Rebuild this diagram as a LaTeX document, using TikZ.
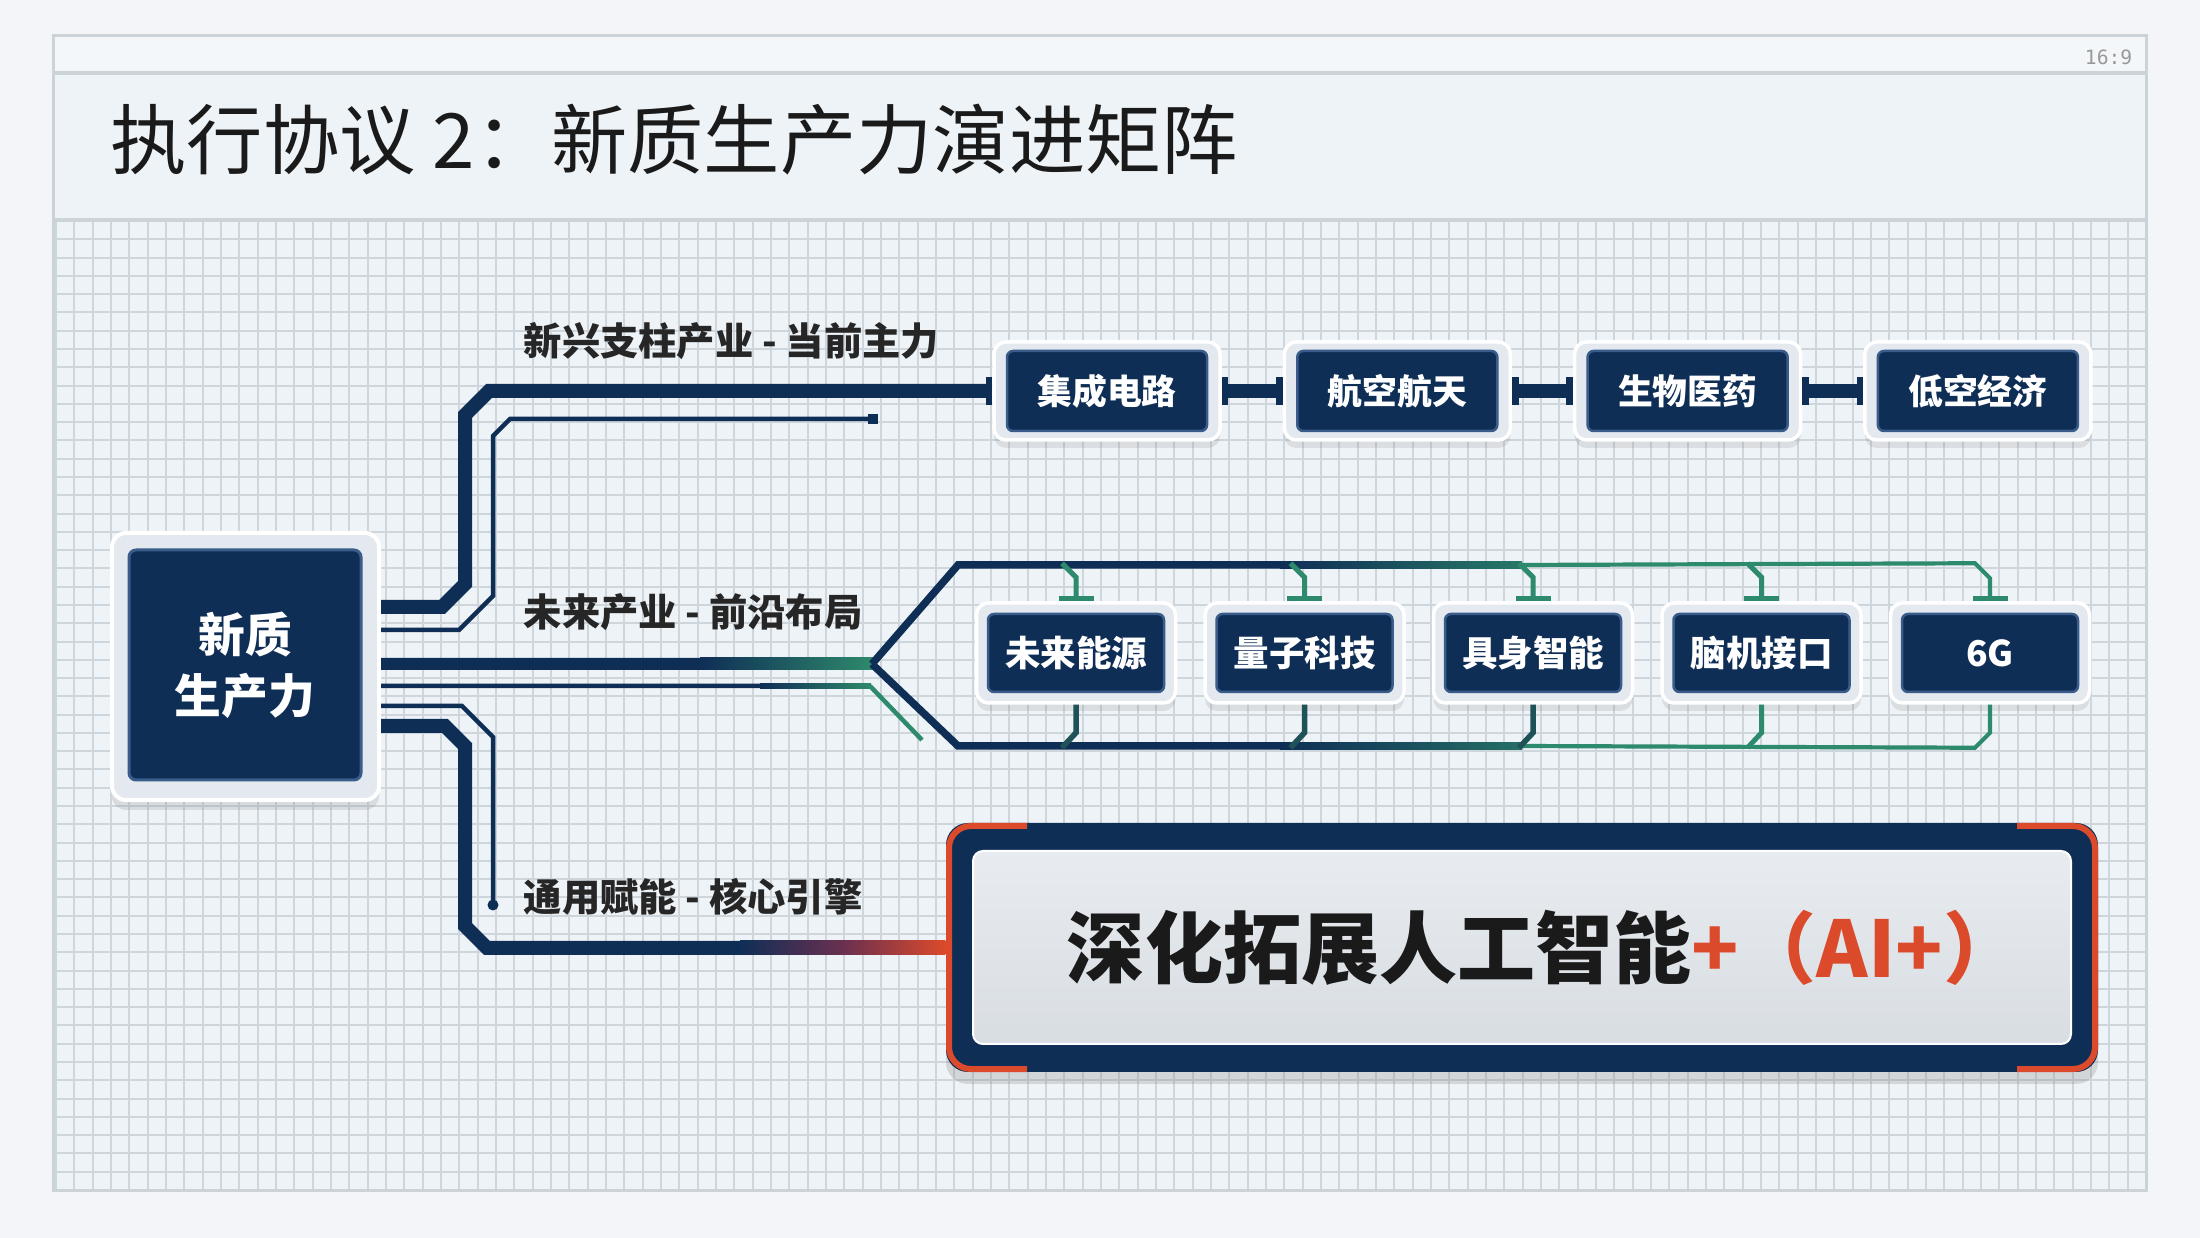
\documentclass[tikz,border=0pt]{standalone}
\usepackage{fontspec}
\setmainfont{Noto Sans CJK SC}
\newfontfamily\monof{DejaVu Sans Mono}
\usetikzlibrary{arrows.meta,shadows,calc}
\definecolor{navy}{HTML}{0F2E56}
\definecolor{navyL}{HTML}{3A5C8A}
\definecolor{grn}{HTML}{2E8A6C}
\definecolor{teal}{HTML}{1F5258}
\definecolor{orng}{HTML}{DB4A2B}
\definecolor{purp}{HTML}{6A3050}
\definecolor{bgc}{HTML}{EEF3F7}
\definecolor{outc}{HTML}{F3F5F8}
\definecolor{gridc}{HTML}{CED5DB}
\definecolor{framec}{HTML}{CBD2D8}
\definecolor{txt}{HTML}{1A1A1A}
\definecolor{lbltxt}{HTML}{262626}
\definecolor{boxfr}{HTML}{E3E9EF}
\definecolor{panT}{HTML}{E8ECF0}
\definecolor{panB}{HTML}{D8DDE3}
\tikzset{
  gridln/.style={draw=gridc, line width=0.2mm},
  thickln/.style={draw=navy, line width=1.4mm, line join=miter},
  thinln/.style={draw=navy, line width=0.45mm, line join=miter},
  busln/.style={draw=navy, line width=0.75mm, line join=miter},
  gbusln/.style={draw=grn, line width=0.42mm, line join=miter},
  stubln/.style={draw=grn, line width=0.5mm, line join=miter},
  bstubln/.style={draw=teal, line width=0.55mm, line join=miter},
  capbar/.tip={Bar[width=2.8mm,line width=0.65mm]},
  capT/.tip={Bar[width=3.5mm,line width=0.5mm]},
  lbl/.style={anchor=west, text=lbltxt, inner sep=0, font=\bfseries\fontsize{10.9pt}{13pt}\selectfont},
  frameT/.style={draw=white, line width=0.35mm, fill=boxfr, rounded corners=1.2mm, minimum width=22.6mm, minimum height=9.8mm, inner sep=0, drop shadow={opacity=0.18, shadow xshift=0mm, shadow yshift=-0.8mm}},
  boxT/.style={fill=navy, draw=navyL, line width=0.25mm, rounded corners=0.6mm, minimum width=20mm, minimum height=8mm, inner sep=0, text=white, font=\bfseries\fontsize{9.9pt}{12pt}\selectfont},
  frameB/.style={frameT, minimum width=19.9mm, minimum height=10mm},
  boxB/.style={boxT, minimum width=17.6mm, minimum height=7.8mm, font=\bfseries\fontsize{10.1pt}{12pt}\selectfont},
  coreframe/.style={draw=white, line width=0.4mm, fill=boxfr, rounded corners=1.4mm, minimum width=26.7mm, minimum height=26.7mm, inner sep=0, drop shadow={opacity=0.2, shadow xshift=0mm, shadow yshift=-1mm}},
  corebox/.style={fill=navy, draw=navyL, line width=0.3mm, rounded corners=0.7mm, minimum width=23.2mm, minimum height=23mm, inner sep=0, text=white, align=center, font=\bfseries\fontsize{13.3pt}{17.4pt}\selectfont},
  aibox/.style={fill=navy, rounded corners=2.2mm, minimum width=115.2mm, minimum height=24.9mm, inner sep=0, drop shadow={opacity=0.25, shadow xshift=0mm, shadow yshift=-1.2mm}},
  aipanel/.style={top color=panT, bottom color=panB, draw=white, line width=0.2mm, rounded corners=1mm, minimum width=109.8mm, minimum height=19.3mm, inner sep=0},
  aitext/.style={inner sep=0, font=\bfseries\fontsize{22.2pt}{26pt}\selectfont},
  orngedge/.style={draw=orng, line width=0.6mm, rounded corners=2.2mm},
  dotsq/.style={fill=navy, minimum size=1mm, inner sep=0},
  dotrd/.style={circle, fill=navy, minimum size=1.1mm, inner sep=0}
}
\begin{document}
\begin{tikzpicture}[x=0.1mm,y=-0.1mm]
\useasboundingbox (0,0) rectangle (2200,1238);
\fill[outc] (0,0) rectangle (2200,1238);
% slide frame
\fill[bgc] (53,36) rectangle (2146,1190);
\fill[white, opacity=0.35] (53,36) rectangle (2146,73);
% grid
\foreach \i in {0,...,114} { \draw[gridln] ({56+18.333*\i},221) -- ({56+18.333*\i},1190); }
\foreach \j in {0,...,53} { \draw[gridln] (56,{221+18.283*\j}) -- (2146,{221+18.283*\j}); }
\draw[framec, line width=0.3mm] (53,36) rectangle (2146,1190);
\draw[framec, line width=0.35mm] (53,73) -- (2146,73);
\draw[framec, line width=0.4mm] (53,220) -- (2146,220);
\node[anchor=east, inner sep=0, text=gray!80, font=\monof\fontsize{5.6pt}{6pt}\selectfont] (ratio) at (2133,57) {16:9};
\node[anchor=west, inner sep=0, text=txt, font=\fontsize{21.7pt}{26pt}\selectfont] (title) at (110,140) {执行协议 2：新质生产力演进矩阵};

% core node
\node[coreframe] (coreF) at (245.5,666.5) {};
\node[corebox] (core) at (245,665) {新质\\生产力};

% top row nodes
\foreach \n/\t [count=\k from 0] in {e1/集成电路, e2/航空航天, e3/生物医药, e4/低空经济} {
  \node[frameT] (\n) at ({1107+290.3*\k},391) {};
  \node[boxT] (\n t) at (\n) {\t};
}
% bottom row nodes
\foreach \n/\t [count=\k from 0] in {f1/未来能源, f2/量子科技, f3/具身智能, f4/脑机接口, f5/6G} {
  \node[frameB] (\n) at ({1076+228.5*\k},653) {};
  \node[boxB] (\n t) at (\n) {\t};
}

% labels
\node[lbl] (l1) at (523,341) {新兴支柱产业 - 当前主力};
\node[lbl] (l2) at (523,612) {未来产业 - 前沿布局};
\node[lbl] (l3) at (523,897) {通用赋能 - 核心引擎};

% branch end markers
\node[dotsq] (tdot) at (873,419) {};
\node[dotrd] (bdot) at (493,905) {};
\coordinate (fork) at (872,664);

% top branch
\draw[thickln, -capbar] ([yshift=5.95mm]coreF.east) -- (442,607) -- (465,584) -- (465,415) -- (489,391) -- (e1.west);
\draw[thinln] ([yshift=3.65mm]coreF.east) -- (459,630) -- (493,596) -- (493,436) -- (510,419) -- (tdot.center);
\draw[thickln, capbar-capbar] (e1.east) -- (e2.west);
\draw[thickln, capbar-capbar] (e2.east) -- (e3.west);
\draw[thickln, capbar-capbar] (e3.east) -- (e4.west);

% middle branch
\draw[thickln, line width=1.2mm] ([yshift=0.25mm]coreF.east) -- (fork);
\shade[left color=navy, right color=grn] (700,658) rectangle (874,670);
\draw[thinln] ([yshift=-1.95mm]coreF.east) -- (760,686);
\shade[left color=navy, right color=grn] (760,683.75) rectangle (871,688.25);
\draw[thinln, draw=grn] (870,686) -- (922,740);
% fork to buses
\draw[busln] (fork) -- (958,565) -- (1280,565);
\shade[left color=navy, right color=grn!80!navy] (1280,561.25) rectangle (1522,568.75);
\draw[busln] (fork) -- (958,746) -- (1280,746);
\shade[left color=navy, right color=grn!70!navy] (1280,742.25) rectangle (1522,749.75);
\draw[gbusln, -capT] (1520,565) -- ($(f5.north)+(-15,-38)$) -- ($(f5.north)+(0,-23)$) -- (f5.north);
\draw[gbusln] (1520,746) -- ($(f5.south)+(-15,43)$) -- ($(f5.south)+(0,28)$) -- (f5.south);
\foreach \i in {1,...,4} {
  \draw[stubln, -capT] ($(f\i.north)+(-14,-38)$) -- ($(f\i.north)+(0,-24)$) -- (f\i.north);
}
\foreach \i in {1,2,3} {
  \draw[bstubln] (f\i.south) -- ($(f\i.south)+(0,28)$) -- ($(f\i.south)+(-14,43)$);
}
\draw[stubln] (f4.south) -- ($(f4.south)+(0,28)$) -- ($(f4.south)+(-14,43)$);

% bottom branch
\draw[thinln] ([yshift=-3.95mm]coreF.east) -- (462,706) -- (493,737) -- (bdot.center);
\draw[thickln] ([yshift=-5.95mm]coreF.east) -- (445,726) -- (465,746) -- (465,926) -- (487,948) -- (760,948);

% AI box
\node[aibox] (ai) at (1522,947.5) {};
\shade[left color=navy, right color=orng, middle color=purp] (740,941) rectangle (ai.west |- 0,955);
\draw[orngedge] (1027,826) -- (949,826) -- (949,1069) -- (1027,1069);
\draw[orngedge] (2017,826) -- (2095,826) -- (2095,1069) -- (2017,1069);
\node[aipanel] (aip) at (ai) {};
\node[aitext] (ait) at ([xshift=2.2mm]aip.center) {\textcolor{txt}{深化拓展人工智能}\textcolor{orng}{+（AI+）}};
\end{tikzpicture}
\end{document}
